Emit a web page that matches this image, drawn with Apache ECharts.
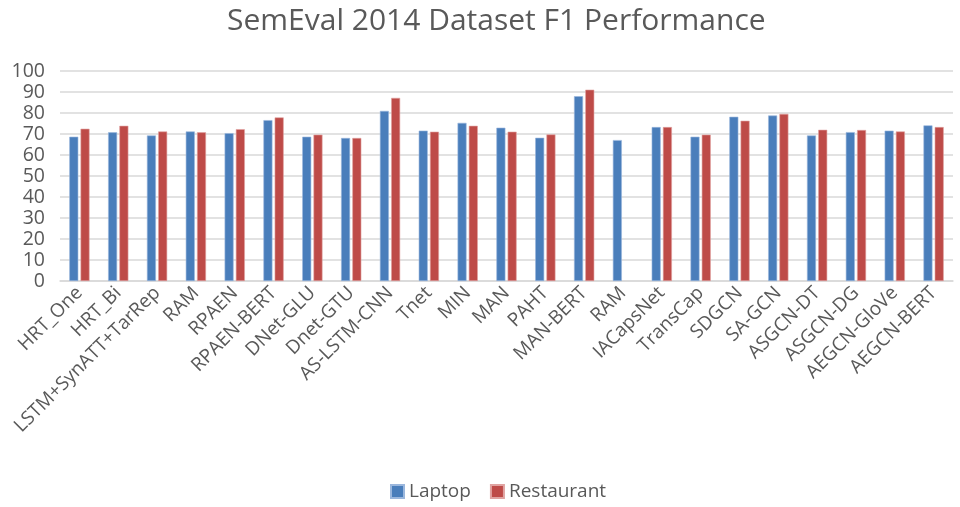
<!DOCTYPE html>
<html><head><meta charset="utf-8">
<script src="https://cdn.jsdelivr.net/npm/echarts@6/dist/echarts.min.js"></script>
<style>html,body{margin:0;padding:0;background:#fff}#c{width:960px;height:507px}</style>
</head><body><div id="c"></div>
<script>
const categories = ["HRT_One","HRT_Bi","LSTM+SynATT+TarRep","RAM","RPAEN","RPAEN-BERT","DNet-GLU","Dnet-GTU","AS-LSTM-CNN","Tnet","MIN","MAN","PAHT","MAN-BERT","RAM","IACapsNet","TransCap","SDGCN","SA-GCN","ASGCN-DT","ASGCN-DG","AEGCN-GloVe","AEGCN-BERT"];
const laptop = [68.7,70.8,69.3,71.2,70.4,76.6,68.7,68.1,81.0,71.6,75.3,73.0,68.2,88.0,67.1,73.3,68.7,78.2,78.8,69.3,70.9,71.6,74.1];
const restaurant = [72.5,73.9,71.2,70.8,72.3,77.9,69.7,68.1,87.2,71.1,73.9,71.1,69.8,91.1,null,73.3,69.7,76.3,79.6,72.0,71.9,71.2,73.3];
const yTicks = [0,10,20,30,40,50,60,70,80,90,100];

const font = '"Open Sans", "Noto Sans", sans-serif';
const chart = echarts.init(document.getElementById('c'));
chart.setOption({
  animation: false,
  title: { text: 'SemEval 2014 Dataset F1 Performance', left: 222, top: 1,
    textStyle: { fontFamily: font, fontSize: 30, fontWeight: 'normal', color: '#595959' } },
  legend: { bottom: 1, left: 385, itemWidth: 13, itemHeight: 13, itemGap: 19, icon: 'rect',
    textStyle: { fontFamily: font, fontSize: 19, color: '#595959' } },
  grid: { left: 60, right: 7, top: 71, bottom: 226, containLabel: false },
  xAxis: { type: 'category', data: categories,
    axisLine: { lineStyle: { color: '#d9d9d9', width: 1.5 } },
    axisTick: { show: false },
    axisLabel: { rotate: 45, interval: 0, fontFamily: font, fontSize: 19, color: '#595959', margin: 9 } },
  yAxis: { type: 'value', min: yTicks[0], max: yTicks[yTicks.length-1], interval: 10,
    axisLine: { show: false }, axisTick: { show: false },
    splitLine: { lineStyle: { color: '#d9d9d9', width: 1.5 } },
    axisLabel: { fontFamily: font, fontSize: 19.5, color: '#595959', margin: 15 } },
  series: [
    { name: 'Laptop', type: 'bar', data: laptop, barWidth: 9, barGap: '25%',
      itemStyle: { color: '#4a7ebb', borderColor: '#9bb7dd', borderWidth: 0.6 } },
    { name: 'Restaurant', type: 'bar', data: restaurant, barWidth: 9,
      itemStyle: { color: '#be4b48', borderColor: '#e0a3a1', borderWidth: 0.6 } }
  ]
});
</script></body></html>
